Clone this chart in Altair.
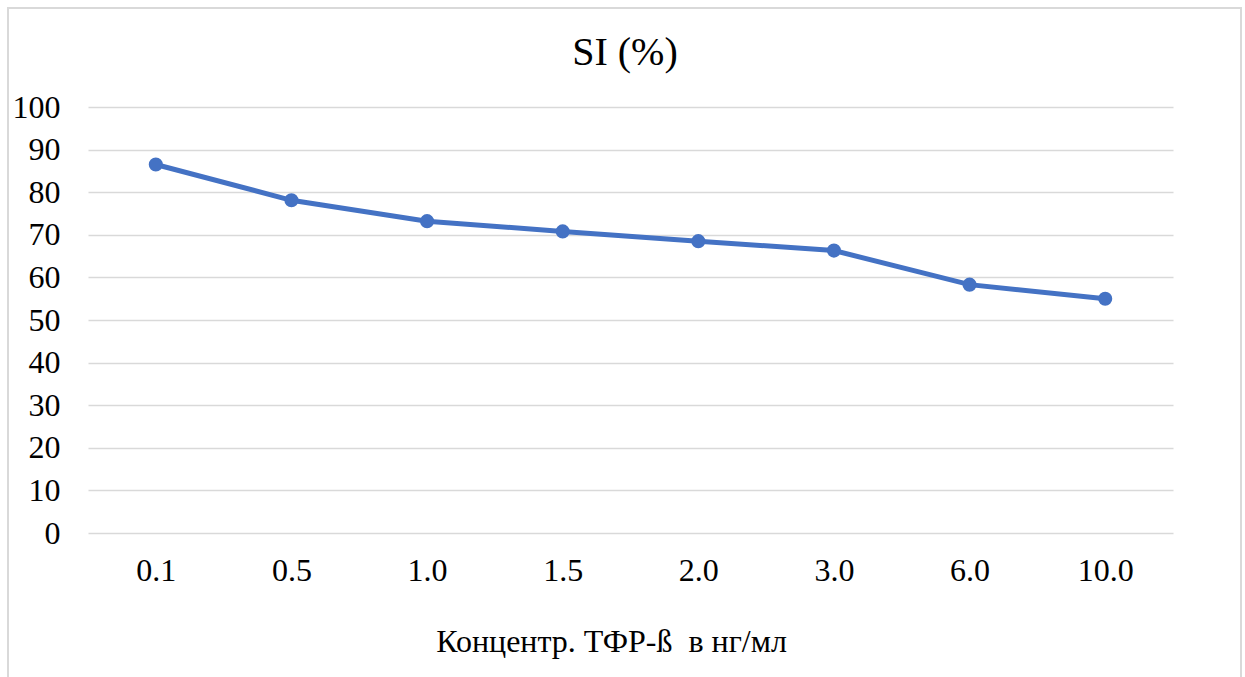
import altair as alt
import pandas as pd

concentrations = ["0.1", "0.5", "1.0", "1.5", "2.0", "3.0", "6.0", "10.0"]
si_values = [86.5, 78.1, 73.2, 70.8, 68.5, 66.3, 58.3, 55.0]

df = pd.DataFrame({"conc": concentrations, "si": si_values})
single = pd.DataFrame({"k": [0]})

FONT = "Liberation Serif"
BLUE = "#4472C4"

W, H = 1085, 426
L, T = 88, 107
FS = 32

base = alt.Chart(df).encode(
    x=alt.X("conc:O", sort=concentrations,
            scale=alt.Scale(type="point", padding=0.5),
            axis=alt.Axis(title="Концентр. ТФР-ß\u00a0 в нг/мл", labelAngle=0,
                          labelFontSize=FS, labelFont=FONT, labelColor="#000",
                          labelPadding=22, ticks=False, domain=False, grid=False,
                          titleFont=FONT, titleFontSize=FS, titleFontWeight="normal",
                          titleColor="#000", titleY=108, titleX=523,
                          titleBaseline="middle", titleAlign="center")),
    y=alt.Y("si:Q", scale=alt.Scale(domain=[0, 100], nice=False),
            axis=alt.Axis(title=None, values=list(range(0, 101, 10)),
                          labelFontSize=FS, labelFont=FONT, labelColor="#000",
                          labelPadding=28, ticks=False, domain=False,
                          gridColor="#d9d9d9", gridWidth=1.5)),
)

line = base.mark_line(color=BLUE, strokeWidth=5)
points = base.mark_circle(color=BLUE, size=200, opacity=1)

border = alt.Chart(single).mark_rect(fill=None, stroke="#d9d9d9", strokeWidth=2).encode(
    x=alt.value(8 - L), x2=alt.value(1241 - L),
    y=alt.value(8 - T), y2=alt.value(720 - T)
)

title = alt.Chart(single).mark_text(font=FONT, fontSize=40, fontWeight="normal", color="#000",
                                    baseline="alphabetic", align="center").encode(
    x=alt.value(625 - L), y=alt.value(65 - T), text=alt.value("SI (%)")
)

chart = alt.layer(border, line, points, title).properties(
    width=W, height=H,
    autosize=alt.AutoSizeParams(type="none"),
    padding={"left": L, "top": T, "right": 1245 - L - W, "bottom": 677 - T - H},
    background="white",
).configure_view(stroke=None)

chart.save("out.html", embed_options={"renderer": "svg", "actions": False})
